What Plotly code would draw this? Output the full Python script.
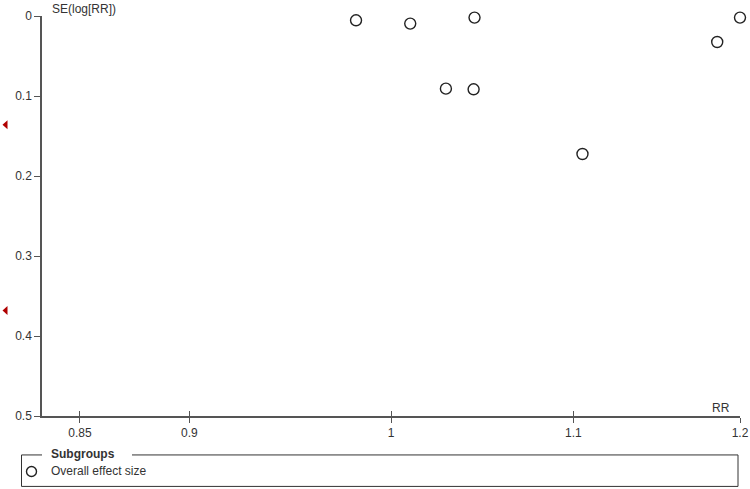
import math
import plotly.graph_objects as go

# Study data (risk ratio and standard error of log RR)
rr = [0.9819, 1.0101, 1.0446, 1.0291, 1.0441, 1.2000, 1.1858, 1.1052]
se = [0.0054, 0.0095, 0.0020, 0.0908, 0.0916, 0.0020, 0.0325, 0.1725]

# Studies lying off the left edge of the plot (drawn as red arrows at the margin)
off_se = [0.136, 0.368]

x_ticks = [0.85, 0.9, 1, 1.1, 1.2]
x_tick_text = ["0.85", "0.9", "1", "1.1", "1.2"]
y_ticks = [0, 0.1, 0.2, 0.3, 0.4, 0.5]
y_tick_text = ["0", "0.1", "0.2", "0.3", "0.4", "0.5"]

x_range = [1 / 1.2, 1.2]
y_range = [0.5, 0]

FONT = "Liberation Sans, Arial, sans-serif"
TXT = "#333333"
AX = "#555555"

fig = go.Figure()

fig.add_trace(go.Scatter(
    x=rr, y=se, mode="markers", name="Overall effect size",
    marker=dict(symbol="circle-open", size=11, color="#222222",
                line=dict(width=1.4, color="#222222")),
    cliponaxis=False, showlegend=False, hoverinfo="x+y"))

# invisible trace for the overlay axis (inside half of the crossing ticks)
fig.add_trace(go.Scatter(x=[1], y=[0.25], xaxis="x2", yaxis="y",
                         mode="markers", marker=dict(opacity=0),
                         showlegend=False, hoverinfo="skip"))

lr = [math.log10(x_range[0]), math.log10(x_range[1]) + 1e-6]

fig.update_layout(
    width=750, height=489,
    margin=dict(l=42, r=10, t=16, b=73),
    paper_bgcolor="white", plot_bgcolor="white",
    font=dict(family=FONT, size=12, color=TXT),
    xaxis=dict(type="log", range=lr, tickmode="array", tickvals=x_ticks,
               ticktext=x_tick_text, ticks="outside", ticklen=5, tickwidth=1.3,
               tickcolor=AX, showline=True, linecolor=AX, linewidth=1.5,
               showgrid=False, zeroline=False, automargin=False,
               tickfont=dict(size=12, color=TXT)),
    xaxis2=dict(type="log", range=lr, overlaying="x", anchor="y", side="bottom",
                tickmode="array", tickvals=x_ticks, ticks="inside", ticklen=5,
                tickwidth=1.3, tickcolor=AX, showticklabels=False,
                showline=False, showgrid=False, zeroline=False),
    yaxis=dict(range=y_range, tickmode="array", tickvals=y_ticks,
               ticktext=y_tick_text, ticks="outside", ticklen=6, tickwidth=1.3,
               tickcolor=AX, showline=True, linecolor=AX, linewidth=1.5,
               showgrid=False, zeroline=False, automargin=False,
               tickfont=dict(size=12, color=TXT)),
    showlegend=False,
)

W, H = 698.0, 400.5
def px(v):
    return (v - 42) / W
def py(v):
    return (416.5 - v) / H

line = dict(color="#333333", width=1)
shapes = [
    dict(type="line", xref="paper", yref="paper", x0=px(21.5), x1=px(21.5), y0=py(455.5), y1=py(487), line=line),
    dict(type="line", xref="paper", yref="paper", x0=px(21.5), x1=px(738), y0=py(487), y1=py(487), line=line),
    dict(type="line", xref="paper", yref="paper", x0=px(738), x1=px(738), y0=py(455.5), y1=py(487), line=line),
    dict(type="line", xref="paper", yref="paper", x0=px(21.5), x1=px(42), y0=py(455.5), y1=py(455.5), line=line),
    dict(type="line", xref="paper", yref="paper", x0=px(132), x1=px(738), y0=py(455.5), y1=py(455.5), line=line),
    dict(type="circle", xref="paper", yref="paper", xsizemode="pixel", ysizemode="pixel",
         xanchor=px(31.5), yanchor=py(472), x0=-5, x1=5, y0=-5, y1=5,
         line=dict(color="#222222", width=1.4)),
]
for s in off_se:
    shapes.append(dict(type="path", xref="paper", yref="y", xsizemode="pixel",
                       ysizemode="pixel", xanchor=px(5), yanchor=s,
                       path="M -2.5,0 L 2.5,4.5 L 2.5,-4.5 Z",
                       fillcolor="#b00000", line=dict(width=0)))

annotations = [
    dict(text="SE(log[RR])", xref="paper", yref="paper", x=px(50), y=py(8.5),
         xanchor="left", yanchor="middle", showarrow=False, font=dict(size=12, color=TXT)),
    dict(text="RR", xref="paper", yref="paper", x=px(732), y=py(408),
         xanchor="right", yanchor="middle", showarrow=False, font=dict(size=12, color=TXT)),
    dict(text="<b>Subgroups</b>", xref="paper", yref="paper", x=px(49), y=py(455),
         xanchor="left", yanchor="middle", showarrow=False, font=dict(size=12, color=TXT)),
    dict(text="Overall effect size", xref="paper", yref="paper", x=px(49), y=py(472),
         xanchor="left", yanchor="middle", showarrow=False, font=dict(size=12, color=TXT)),
]

fig.update_layout(shapes=shapes, annotations=annotations)

fig.write_html("out.html", config={"displayModeBar": False},
               post_script="document.body.style.margin='0';")
